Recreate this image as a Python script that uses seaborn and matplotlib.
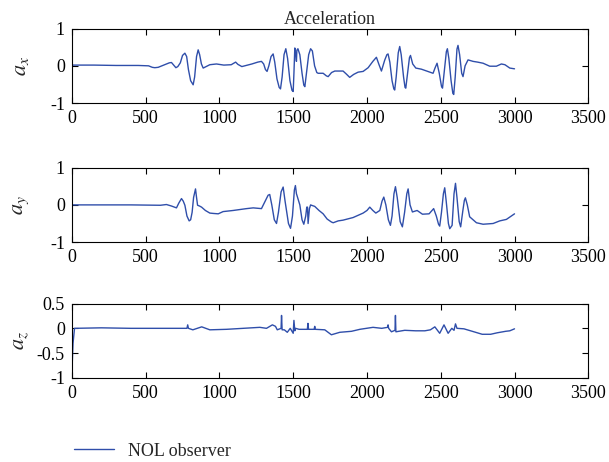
import matplotlib
matplotlib.use("Agg")
import matplotlib.pyplot as plt
import seaborn as sns

# Acceleration traces (time step, value)
AX_T = [0, 150, 300, 450, 520, 545, 562, 585, 610, 641, 660, 675, 690, 705, 718, 735,
        750, 766, 778, 790, 805, 822, 832, 845, 856, 866, 878, 890, 910, 935, 980, 1030,
        1080, 1110, 1125, 1152, 1220, 1260, 1285, 1300, 1312, 1323, 1335, 1350, 1364,
        1375, 1390, 1405, 1414, 1425, 1438, 1450, 1462, 1478, 1492, 1500, 1505, 1511,
        1518, 1522, 1525, 1532, 1545, 1560, 1572, 1579, 1590, 1605, 1618, 1630, 1645,
        1660, 1669, 1703, 1725, 1737, 1760, 1782, 1838, 1860, 1883, 1910, 1940, 1974,
        2008, 2040, 2064, 2080, 2098, 2120, 2135, 2143, 2155, 2170, 2182, 2188, 2198,
        2212, 2222, 2232, 2248, 2258, 2263, 2275, 2288, 2295, 2310, 2331, 2369, 2425,
        2448, 2462, 2475, 2490, 2505, 2512, 2525, 2538, 2545, 2555, 2570, 2582, 2588,
        2598, 2610, 2617, 2628, 2642, 2651, 2665, 2685, 2719, 2750, 2787, 2832, 2877,
        2911, 2935, 2968, 3000]
AX_V = [0.02, 0.02, 0.01, 0.01, 0.0, -0.04, -0.05, -0.04, 0.0, 0.05, 0.08, 0.09, 0.02,
        -0.05, -0.02, 0.08, 0.28, 0.34, 0.25, -0.1, -0.4, -0.51, -0.3, 0.25, 0.43, 0.3,
        0.05, -0.06, -0.02, 0.03, 0.05, 0.02, 0.03, 0.1, 0.04, -0.02, 0.05, 0.1, 0.12,
        0.05, -0.1, -0.15, 0.0, 0.25, 0.32, 0.1, -0.35, -0.58, -0.62, -0.3, 0.3, 0.46,
        0.2, -0.4, -0.66, -0.69, -0.2, 0.48, 0.3, 0.12, 0.42, 0.46, 0.3, -0.2, -0.52,
        -0.56, -0.2, 0.3, 0.46, 0.4, 0.0, -0.18, -0.2, -0.2, -0.27, -0.29, -0.18, -0.14,
        -0.14, -0.22, -0.31, -0.23, -0.17, -0.15, -0.05, 0.12, 0.23, 0.05, -0.14, 0.15,
        0.3, 0.32, 0.1, -0.4, -0.62, -0.65, -0.3, 0.35, 0.52, 0.3, -0.3, -0.58, -0.6,
        -0.2, 0.22, 0.28, 0.05, -0.06, -0.09, -0.17, -0.2, -0.05, 0.07, -0.2, -0.55,
        -0.6, -0.1, 0.38, 0.46, 0.2, -0.4, -0.74, -0.77, -0.3, 0.45, 0.55, 0.3, -0.2,
        -0.29, 0.0, 0.16, 0.12, 0.1, 0.07, -0.01, -0.01, 0.05, 0.03, -0.06, -0.08]

AY_T = [0, 200, 400, 600, 641, 675, 709, 725, 743, 755, 766, 780, 795, 805, 815, 825,
        838, 845, 852, 865, 879, 905, 935, 960, 992, 1025, 1093, 1184, 1229, 1285, 1310,
        1330, 1341, 1355, 1372, 1387, 1400, 1418, 1432, 1445, 1468, 1482, 1495, 1508,
        1515, 1522, 1526, 1545, 1560, 1572, 1585, 1592, 1597, 1601, 1610, 1618, 1624,
        1646, 1675, 1703, 1730, 1759, 1771, 1805, 1838, 1906, 1974, 2000, 2019, 2040,
        2060, 2087, 2102, 2114, 2128, 2145, 2159, 2170, 2183, 2193, 2205, 2225, 2240,
        2255, 2270, 2279, 2292, 2308, 2340, 2376, 2421, 2452, 2470, 2485, 2493, 2505,
        2518, 2527, 2537, 2552, 2561, 2577, 2590, 2600, 2610, 2625, 2635, 2650, 2660,
        2667, 2680, 2696, 2742, 2787, 2855, 2900, 2945, 3000]
AY_V = [0.0, 0.0, 0.0, -0.01, 0.01, -0.03, -0.08, 0.05, 0.17, 0.1, -0.01, -0.3, -0.43,
        -0.4, -0.2, 0.2, 0.43, 0.2, -0.01, -0.03, -0.06, -0.15, -0.22, -0.23, -0.24,
        -0.18, -0.15, -0.1, -0.08, -0.1, 0.1, 0.26, 0.28, 0.0, -0.4, -0.5, -0.2, 0.35,
        0.48, 0.1, -0.5, -0.63, -0.3, 0.4, 0.52, 0.3, 0.25, 0.0, -0.4, -0.52, -0.3,
        -0.06, -0.06, -0.5, -0.1, 0.0, -0.01, -0.04, -0.15, -0.24, -0.38, -0.46, -0.48,
        -0.43, -0.41, -0.34, -0.22, -0.15, -0.06, -0.15, -0.22, -0.15, 0.1, 0.21, 0.0,
        -0.4, -0.55, -0.3, 0.3, 0.49, 0.2, -0.45, -0.59, -0.2, 0.3, 0.43, 0.0, -0.19,
        -0.15, -0.25, -0.24, -0.1, -0.3, -0.52, -0.57, -0.2, 0.3, 0.46, 0.1, -0.5, -0.64,
        -0.55, 0.3, 0.58, 0.2, -0.45, -0.59, -0.15, 0.12, 0.19, 0.0, -0.32, -0.48, -0.52,
        -0.5, -0.43, -0.39, -0.24]

AZ_T = [0, 8, 18, 200, 400, 600, 780, 785, 790, 820, 880, 935, 1048, 1161, 1274, 1319,
        1359, 1380, 1392, 1418, 1421, 1425, 1440, 1460, 1480, 1500, 1505, 1511, 1516,
        1540, 1596, 1600, 1604, 1642, 1646, 1650, 1714, 1759, 1816, 1895, 1952, 2041,
        2100, 2140, 2143, 2147, 2166, 2190, 2193, 2196, 2256, 2330, 2392, 2430, 2460,
        2493, 2522, 2550, 2575, 2590, 2600, 2610, 2657, 2725, 2781, 2838, 2883, 2940,
        2968, 3000]
AZ_V = [-0.9, -0.3, 0.0, 0.01, 0.0, 0.0, 0.0, 0.07, 0.0, -0.03, 0.03, -0.03, -0.02, 0.0,
        0.02, 0.0, 0.07, 0.04, -0.03, 0.0, 0.26, -0.03, -0.03, -0.08, 0.0, -0.1, 0.16,
        -0.05, 0.0, -0.02, -0.02, 0.1, -0.02, -0.02, 0.04, -0.02, -0.03, -0.13, -0.08,
        -0.06, -0.02, 0.02, 0.0, 0.02, 0.07, 0.0, -0.07, -0.04, 0.26, -0.07, -0.04, -0.05,
        -0.05, -0.03, 0.03, -0.1, 0.07, -0.1, 0.0, -0.04, 0.09, 0.0, -0.01, -0.07, -0.12,
        -0.12, -0.09, -0.06, -0.05, -0.01]

SERIES = [
    (AX_T, AX_V, r"$a_x$", (-1, 1), [-1, 0, 1], ["-1", "0", "1"]),
    (AY_T, AY_V, r"$a_y$", (-1, 1), [-1, 0, 1], ["-1", "0", "1"]),
    (AZ_T, AZ_V, r"$a_z$", (-1, 0.5), [-1, -0.5, 0, 0.5], ["-1", "-0.5", "0", "0.5"]),
]
X_TICKS = [0, 500, 1000, 1500, 2000, 2500, 3000, 3500]
LINE_COLOR = "#2f4eaa"

sns.set_theme(style="ticks")
plt.rcParams["font.family"] = ["Liberation Serif", "DejaVu Serif"]
plt.rcParams["mathtext.fontset"] = "stix"
plt.rcParams["axes.unicode_minus"] = False

fig = plt.figure(figsize=(6.09, 4.62), dpi=100)
bottoms = [0.777, 0.476, 0.182]
axes = [fig.add_axes([0.118, b, 0.848, 0.161]) for b in bottoms]

for ax, (t, v, lab, ylim, yt, ytl) in zip(axes, SERIES):
    sns.lineplot(x=t, y=v, ax=ax, color=LINE_COLOR, linewidth=1.0,
                 label="NOL observer" if ax is axes[0] else None, legend=False)
    ax.set_xlim(0, 3500)
    ax.set_ylim(*ylim)
    ax.set_xticks(X_TICKS)
    ax.set_xticklabels([str(x) for x in X_TICKS])
    ax.set_yticks(yt)
    ax.set_yticklabels(ytl)
    ax.tick_params(direction="in", top=True, right=True, length=4, width=0.8,
                   labelsize=13, colors="black", pad=5)
    for s in ax.spines.values():
        s.set_linewidth(0.8)
        s.set_color("black")
    ax.set_ylabel(lab, fontsize=16)
    ax.yaxis.set_label_coords(-0.08, 0.5)

axes[0].set_title("Acceleration", fontsize=13, pad=3)

handles, labels = axes[0].get_legend_handles_labels()
fig.legend(handles, labels, loc="lower left", bbox_to_anchor=(0.095, -0.03),
           frameon=False, fontsize=13, handlelength=2.2)

fig.savefig("out.png", dpi=100)
